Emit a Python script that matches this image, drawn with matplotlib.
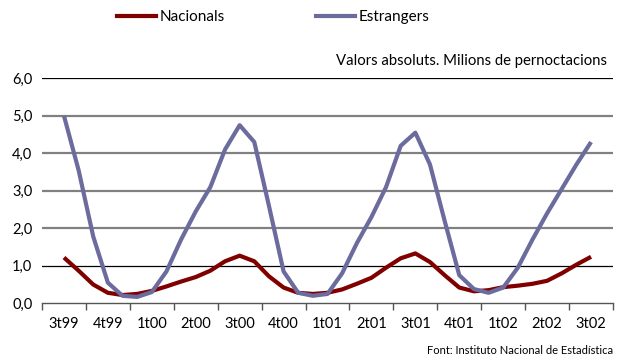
import matplotlib
matplotlib.use("Agg")
import matplotlib.pyplot as plt
import numpy as np
from matplotlib.lines import Line2D

quarters = ["3t99", "4t99", "1t00", "2t00", "3t00", "4t00", "1t01", "2t01",
            "3t01", "4t01", "1t02", "2t02", "3t02"]

# Monthly values (millions of overnight stays), Jul 1999 .. Jul 2002
nacionals = [1.22, 0.87, 0.50, 0.28, 0.22, 0.25, 0.33, 0.45, 0.58, 0.70,
             0.87, 1.12, 1.27, 1.12, 0.72, 0.42, 0.28, 0.25, 0.28, 0.37,
             0.52, 0.68, 0.95, 1.20, 1.33, 1.10, 0.75, 0.42, 0.32, 0.35,
             0.43, 0.47, 0.52, 0.60, 0.80, 1.03, 1.24]
estrangers = [5.00, 3.55, 1.78, 0.55, 0.20, 0.17, 0.30, 0.85, 1.70, 2.45,
              3.10, 4.10, 4.75, 4.30, 2.60, 0.85, 0.28, 0.20, 0.25, 0.80,
              1.60, 2.30, 3.10, 4.20, 4.55, 3.70, 2.20, 0.75, 0.38, 0.28,
              0.42, 0.95, 1.70, 2.40, 3.05, 3.70, 4.30]

FONT = "Lato"
plt.rcParams['font.family'] = [FONT, 'DejaVu Sans']

RED = "#800000"
BLUE = "#6B6B9E"

fig = plt.figure(figsize=(6.23, 3.58), dpi=100)
ax = fig.add_axes([42/623, 1 - 303.3/358, (613-42)/623, (303.3-78.3)/358])

x = np.arange(len(nacionals)) / 3.0
ax.plot(x, nacionals, color=RED, lw=3.0, solid_joinstyle="round",
        solid_capstyle="butt", zorder=3)
ax.plot(x, estrangers, color=BLUE, lw=3.0, solid_joinstyle="round",
        solid_capstyle="butt", zorder=3)

ax.set_xlim(-0.5, len(quarters) - 0.5)
ax.set_ylim(0, 6)

# gridlines
for v in [2, 3, 4, 5]:
    ax.axhline(v, color="#808080", lw=1.6, zorder=1)
for v in [1, 6]:
    ax.axhline(v, color="black", lw=0.9, zorder=1)

for s in ["left", "right", "top"]:
    ax.spines[s].set_visible(False)
ax.spines["bottom"].set_color("#555555")
ax.spines["bottom"].set_linewidth(1.0)

ax.set_yticks(np.arange(0, 7, 1))
ax.set_yticklabels([f"{v:.1f}".replace(".", ",") for v in range(7)], fontsize=10.5)
ax.tick_params(axis="y", length=0, pad=7)

ax.set_xticks(np.arange(-0.5, len(quarters), 1.0))
ax.set_xticklabels([])
ax.set_xticks(np.arange(len(quarters)), minor=True)
ax.set_xticklabels(quarters, minor=True, fontsize=10.5)
ax.tick_params(axis="x", which="major", direction="out", length=5, width=1.0, color="#555555")
ax.tick_params(axis="x", which="minor", length=0, pad=10)

h1 = Line2D([], [], color=RED, lw=3.0)
h2 = Line2D([], [], color=BLUE, lw=3.0)
fig.legend([h1], ["Nacionals"], loc="center left", bbox_to_anchor=(103/623, 1 - 17/358),
           frameon=False, fontsize=11, handlelength=2.6, handletextpad=0.2)
fig.legend([h2], ["Estrangers"], loc="center left", bbox_to_anchor=(302/623, 1 - 17/358),
           frameon=False, fontsize=11, handlelength=2.6, handletextpad=0.2)

fig.text(607/623, 1 - 61/358, "Valors absoluts. Milions de pernoctacions",
         ha="right", va="center", fontsize=10.7)
fig.text(613/623, 1 - 350/358, "Font: Instituto Nacional de Estadística",
         ha="right", va="center", fontsize=8)

fig.savefig("out.png", dpi=100)
